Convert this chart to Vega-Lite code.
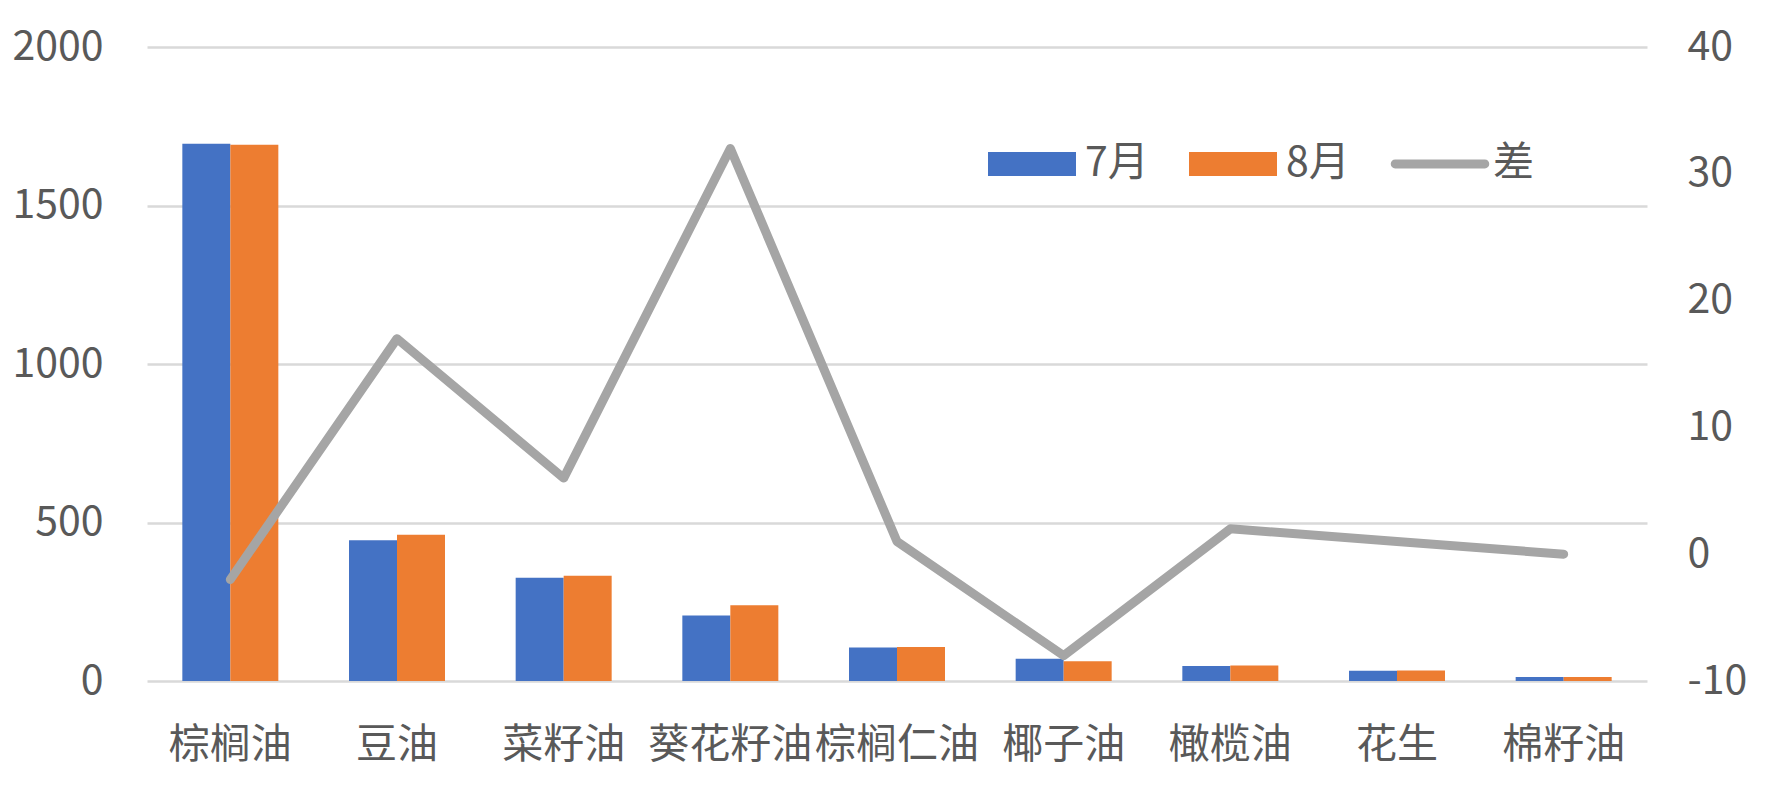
{
  "$schema": "https://vega.github.io/schema/vega-lite/v6.json",
  "width": 1500,
  "height": 634,
  "autosize": {"type": "none"},
  "padding": {"left": 147, "top": 47, "right": 127, "bottom": 127},
  "background": "#ffffff",
  "view": {"stroke": null},
  "datasets": {
    "bars": [
      {"oil": "棕榈油", "month": "7月", "value": 1695},
      {"oil": "棕榈油", "month": "8月", "value": 1692},
      {"oil": "豆油", "month": "7月", "value": 444},
      {"oil": "豆油", "month": "8月", "value": 461},
      {"oil": "菜籽油", "month": "7月", "value": 326},
      {"oil": "菜籽油", "month": "8月", "value": 332},
      {"oil": "葵花籽油", "month": "7月", "value": 207},
      {"oil": "葵花籽油", "month": "8月", "value": 239},
      {"oil": "棕榈仁油", "month": "7月", "value": 106},
      {"oil": "棕榈仁油", "month": "8月", "value": 107},
      {"oil": "椰子油", "month": "7月", "value": 70},
      {"oil": "椰子油", "month": "8月", "value": 62},
      {"oil": "橄榄油", "month": "7月", "value": 47},
      {"oil": "橄榄油", "month": "8月", "value": 49},
      {"oil": "花生", "month": "7月", "value": 32},
      {"oil": "花生", "month": "8月", "value": 33},
      {"oil": "棉籽油", "month": "7月", "value": 13},
      {"oil": "棉籽油", "month": "8月", "value": 13}
    ],
    "diff": [
      {"oil": "棕榈油", "diff": -2},
      {"oil": "豆油", "diff": 17},
      {"oil": "菜籽油", "diff": 6},
      {"oil": "葵花籽油", "diff": 32},
      {"oil": "棕榈仁油", "diff": 1},
      {"oil": "椰子油", "diff": -8},
      {"oil": "橄榄油", "diff": 2},
      {"oil": "花生", "diff": 1},
      {"oil": "棉籽油", "diff": 0}
    ]
  },
  "layer": [
    {
      "data": {"name": "bars"},
      "mark": {"type": "bar"},
      "encoding": {
        "x": {
          "field": "oil", "type": "nominal", "sort": null, "title": null,
          "scale": {"paddingInner": 0.424, "paddingOuter": 0.212},
          "axis": {"labelAngle": 0, "ticks": false, "domain": false, "labelPadding": 44, "labelOverlap": false, "labelBound": false}
        },
        "xOffset": {"field": "month", "type": "nominal", "sort": ["7月", "8月"], "scale": {"paddingInner": 0, "paddingOuter": 0}},
        "y": {
          "field": "value", "type": "quantitative", "title": null,
          "scale": {"domain": [0, 2000]},
          "axis": {"values": [0, 500, 1000, 1500, 2000], "labelExpr": "'' + datum.value", "grid": true, "gridColor": "#D9D9D9", "gridWidth": 2.5, "ticks": false, "domain": false, "labelPadding": 44}
        },
        "color": {
          "field": "month", "type": "nominal", "title": null,
          "scale": {"domain": ["7月", "8月", "差"], "range": ["#4472C4", "#ED7D31", "#A5A5A5"]},
          "legend": {
            "orient": "none", "legendX": 841, "legendY": 73, "direction": "horizontal",
            "symbolType": "M-1,-0.27H1V0.27H-1Z", "symbolSize": 7744, "symbolStrokeWidth": 0,
            "labelOffset": 9, "columnPadding": 40, "padding": 0,
            "encoding": {"symbols": {"shape": {"value": {"expr": "datum.value === '差' ? 'M-1.02,-0.1H1.02A0.1,0.1 0 0 1 1.02,0.1H-1.02A0.1,0.1 0 0 1 -1.02,-0.1Z' : 'M-1,-0.27H1V0.27H-1Z'"}}}}
          }
        }
      }
    },
    {
      "data": {"name": "diff"},
      "mark": {"type": "line", "strokeWidth": 9, "strokeCap": "round", "strokeJoin": "round", "color": "#A5A5A5"},
      "encoding": {
        "x": {"field": "oil", "type": "nominal", "sort": null},
        "y": {
          "field": "diff", "type": "quantitative", "title": null,
          "scale": {"domain": [-10, 40]},
          "axis": {"orient": "right", "values": [-10, 0, 10, 20, 30, 40], "labelExpr": "'' + datum.value", "grid": false, "ticks": false, "domain": false, "labelPadding": 40, "labelAlign": "left"}
        },
        "color": {"datum": "差"}
      }
    }
  ],
  "resolve": {"scale": {"y": "independent"}},
  "config": {
    "font": "Noto Sans CJK SC",
    "axis": {"labelFont": "Noto Sans CJK SC", "labelFontSize": 41, "labelColor": "#595959"},
    "legend": {"labelFont": "Noto Sans CJK SC", "labelFontSize": 41, "labelColor": "#595959"}
  }
}
